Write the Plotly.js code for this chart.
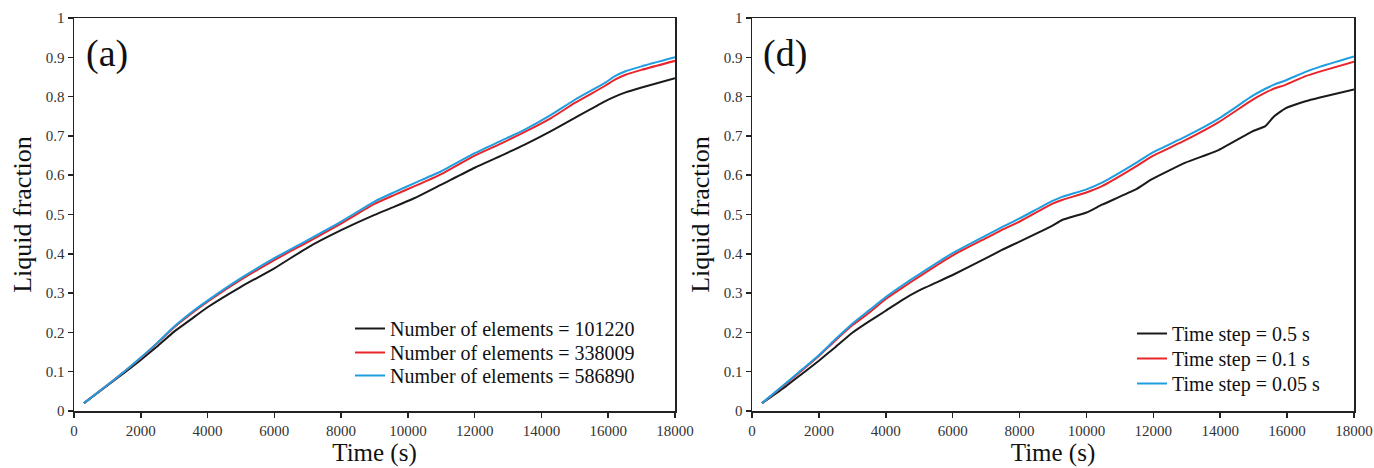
<!DOCTYPE html>
<html>
<head>
<meta charset="utf-8">
<script src="https://cdn.plot.ly/plotly-3.0.1.min.js"></script>
<style>html,body{margin:0;padding:0;background:#fff;}#chart{width:1374px;height:468px;}</style>
</head>
<body>
<div id="chart"></div>
<script>
// Panel (a): mesh sensitivity
const timeA = [300, 1000, 1500, 2000, 2500, 3000, 3500, 4000, 5000, 6000, 7000, 8000, 9000, 9600, 10200, 11000, 12000, 12800, 13500, 14300, 15000, 15900, 16200, 16500, 17000, 18000];
const elems101220 = [0.02, 0.065, 0.097, 0.13, 0.165, 0.202, 0.233, 0.264, 0.316, 0.363, 0.416, 0.46, 0.499, 0.52, 0.542, 0.576, 0.619, 0.65, 0.678, 0.713, 0.746, 0.788, 0.8, 0.81, 0.823, 0.847];
const elems338009 = [0.02, 0.066, 0.1, 0.135, 0.173, 0.213, 0.247, 0.278, 0.334, 0.384, 0.43, 0.477, 0.527, 0.55, 0.572, 0.603, 0.65, 0.681, 0.71, 0.746, 0.784, 0.827, 0.843, 0.855, 0.868, 0.891];
const elems586890 = [0.02, 0.066, 0.1, 0.136, 0.174, 0.215, 0.25, 0.281, 0.338, 0.389, 0.435, 0.482, 0.533, 0.557, 0.58, 0.61, 0.656, 0.688, 0.716, 0.754, 0.792, 0.835, 0.852, 0.864, 0.877, 0.9];

// Panel (d): time-step sensitivity
const timeD = [300, 1000, 1500, 2000, 2500, 3000, 3500, 4000, 4500, 5000, 6000, 7000, 7500, 8000, 8970, 9270, 10000, 10465, 11460, 11960, 12960, 13955, 14950, 15350, 15600, 15950, 16550, 16950, 18000];
const step05 = [0.02, 0.062, 0.095, 0.128, 0.163, 0.199, 0.228, 0.255, 0.283, 0.307, 0.346, 0.389, 0.411, 0.431, 0.471, 0.486, 0.505, 0.525, 0.563, 0.59, 0.632, 0.664, 0.711, 0.725, 0.749, 0.77, 0.788, 0.797, 0.818];
const step01 = [0.02, 0.068, 0.104, 0.14, 0.18, 0.218, 0.25, 0.285, 0.314, 0.342, 0.396, 0.44, 0.462, 0.482, 0.527, 0.537, 0.556, 0.572, 0.621, 0.648, 0.689, 0.735, 0.791, 0.81, 0.82, 0.83, 0.852, 0.863, 0.889];
const step005 = [0.02, 0.07, 0.106, 0.142, 0.183, 0.222, 0.256, 0.29, 0.32, 0.348, 0.402, 0.447, 0.469, 0.49, 0.534, 0.545, 0.564, 0.581, 0.63, 0.657, 0.698, 0.744, 0.801, 0.82, 0.83, 0.841, 0.863, 0.875, 0.902];

const xTicks = [0, 2000, 4000, 6000, 8000, 10000, 12000, 14000, 16000, 18000];
const yTicks = [0, 0.1, 0.2, 0.3, 0.4, 0.5, 0.6, 0.7, 0.8, 0.9, 1];

const seriesA = [
  {name: 'Number of elements = 101220', y: elems101220, color: '#1a1a1a'},
  {name: 'Number of elements = 338009', y: elems338009, color: '#e8252b'},
  {name: 'Number of elements = 586890', y: elems586890, color: '#1e9ee0'}
];
const seriesD = [
  {name: 'Time step = 0.5 s', y: step05, color: '#1a1a1a'},
  {name: 'Time step = 0.1 s', y: step01, color: '#e8252b'},
  {name: 'Time step = 0.05 s', y: step005, color: '#1e9ee0'}
];

const FONT = 'Liberation Serif';
const traces = [];
seriesA.forEach((s, i) => traces.push({x: timeA, y: s.y, name: s.name, type: 'scatter', mode: 'lines',
  line: {color: s.color, width: 2, shape: 'spline', smoothing: 0.5}, xaxis: 'x', yaxis: 'y',
  legend: i === 0 ? 'legend' : 'legend' + (i + 1)}));
seriesD.forEach((s, i) => traces.push({x: timeD, y: s.y, name: s.name, type: 'scatter', mode: 'lines',
  line: {color: s.color, width: 2, shape: 'spline', smoothing: 0.4}, xaxis: 'x2', yaxis: 'y2',
  legend: 'legend' + (i + 4)}));

function xax(domain, anchor) {
  return {domain: domain, anchor: anchor, range: [0, 18000], tickvals: xTicks, tickformat: 'd',
    showgrid: false, zeroline: false, showline: true, linecolor: '#222', linewidth: 1.5, mirror: true,
    ticks: 'outside', ticklen: 5, tickwidth: 1.5, tickcolor: '#222',
    tickfont: {family: FONT, size: 15, color: '#333'},
    title: {text: 'Time (s)', font: {family: FONT, size: 25, color: '#111'}, standoff: 6}, automargin: false, fixedrange: true};
}
function yax(domain, anchor) {
  return {domain: domain, anchor: anchor, range: [0, 1], tickvals: yTicks, ticktext: yTicks.map(v => String(v)),
    showgrid: false, zeroline: false, showline: true, linecolor: '#222', linewidth: 1.5, mirror: true,
    ticks: 'outside', ticklen: 5, tickwidth: 1.5, tickcolor: '#222',
    tickfont: {family: FONT, size: 15, color: '#333'},
    title: {text: 'Liquid fraction', font: {family: FONT, size: 26, color: '#111'}, standoff: 6}, automargin: false, fixedrange: true};
}

const yDom = [1 - 411/468, 1 - 18/468];
function leg(xpx, ytop) {
  return {bgcolor: 'rgba(0,0,0,0)', borderwidth: 0, font: {family: FONT, size: 20, color: '#111'},
    xanchor: 'left', yanchor: 'top', itemwidth: 30, x: xpx/1374, y: 1 - ytop/468};
}

const layout = {
  width: 1374, height: 468,
  margin: {l: 0, r: 0, t: 0, b: 0},
  paper_bgcolor: '#fff', plot_bgcolor: '#fff',
  showlegend: true,
  xaxis: xax([74/1374, 675/1374], 'y'),
  yaxis: yax(yDom, 'x'),
  xaxis2: xax([752/1374, 1354/1374], 'y2'),
  yaxis2: yax(yDom, 'x2'),
  legend: leg(350, 309),
  legend2: leg(350, 333),
  legend3: leg(350, 356),
  legend4: leg(1132, 314),
  legend5: leg(1132, 339),
  legend6: leg(1132, 364),
  annotations: [
    {text: '(a)', xref: 'paper', yref: 'paper', x: 84/1374, y: 1 - 53/468, xanchor: 'left', yanchor: 'middle',
     showarrow: false, font: {family: FONT, size: 38, color: '#111'}},
    {text: '(d)', xref: 'paper', yref: 'paper', x: 761/1374, y: 1 - 53/468, xanchor: 'left', yanchor: 'middle',
     showarrow: false, font: {family: FONT, size: 38, color: '#111'}}
  ]
};

Plotly.newPlot('chart', traces, layout, {staticPlot: true, displayModeBar: false});
</script>
</body>
</html>
